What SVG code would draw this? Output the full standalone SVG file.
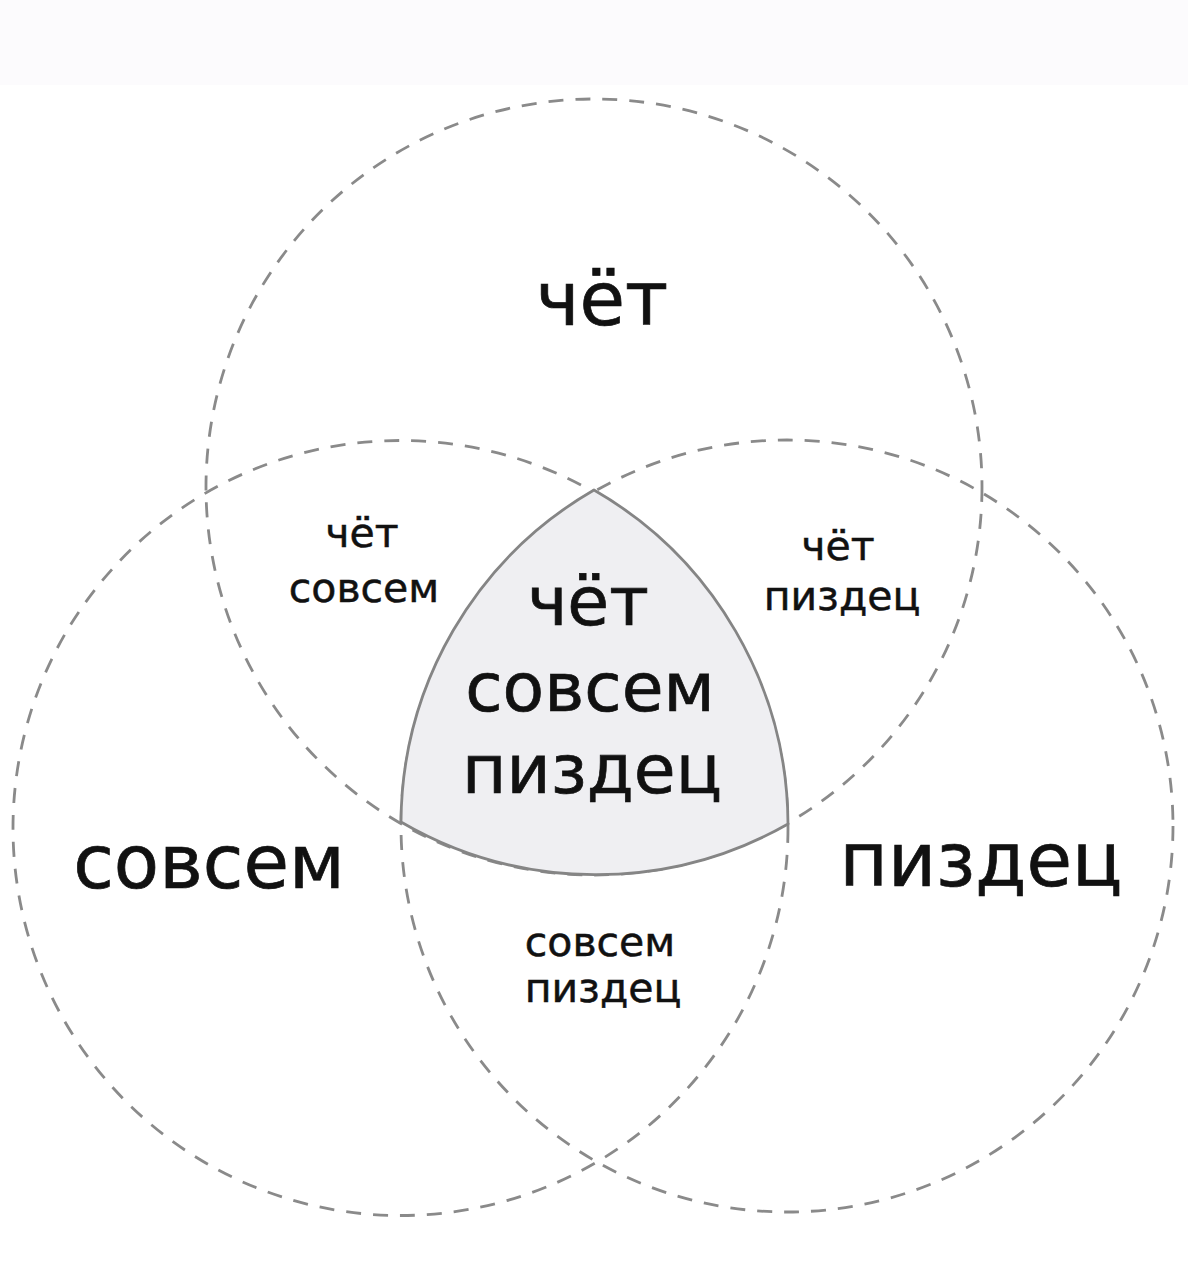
<svg xmlns="http://www.w3.org/2000/svg" width="1188" height="1280" viewBox="0 0 1188 1280">
  <style>
    .ring { fill: none; stroke: #8a8a8a; stroke-width: 2.8; stroke-dasharray: 15 12; }
    .core { fill: #efeff2; stroke: #858585; stroke-width: 2.8; }
    text { font-family: "DejaVu Sans", Verdana, sans-serif; fill: #111; stroke: #111; stroke-width: 0.7; text-anchor: middle; }
    .big { font-size: 74px; }
    .mid { font-size: 68px; }
    .small { font-size: 41px; stroke-width: 0.5; }
  </style>
  <rect x="0" y="0" width="1188" height="1280" fill="#ffffff"/>
  <rect x="0" y="0" width="1188" height="85" fill="#fcfbfd"/>

  <g id="circle-chet">
    <circle class="ring" cx="594" cy="487" r="388"/>
  </g>
  <g id="circle-sovsem">
    <circle class="ring" cx="400.5" cy="828" r="387.5"/>
  </g>
  <g id="circle-pizdets">
    <circle class="ring" cx="787" cy="826" r="386"/>
  </g>

  <g id="region-all">
    <path class="core" d="M 594 490 A 386 386 0 0 0 401 822 A 388 388 0 0 0 788 824 A 387.5 387.5 0 0 0 594 490 Z"/>
    <text class="mid" x="588" y="625">чёт</text>
    <text class="mid" x="590" y="711">совсем</text>
    <text class="mid" x="592" y="793">пиздец</text>
  </g>

  <g id="label-chet">
    <text class="big" x="602" y="325">чёт</text>
  </g>
  <g id="label-sovsem">
    <text class="big" x="209" y="888">совсем</text>
  </g>
  <g id="label-pizdets">
    <text class="big" x="981" y="886">пиздец</text>
  </g>

  <g id="label-chet-sovsem">
    <text class="small" x="362" y="547">чёт</text>
    <text class="small" x="364" y="602">совсем</text>
  </g>
  <g id="label-chet-pizdets">
    <text class="small" x="838" y="560">чёт</text>
    <text class="small" x="842" y="610">пиздец</text>
  </g>
  <g id="label-sovsem-pizdets">
    <text class="small" x="600" y="956">совсем</text>
    <text class="small" x="603" y="1002">пиздец</text>
  </g>
</svg>
